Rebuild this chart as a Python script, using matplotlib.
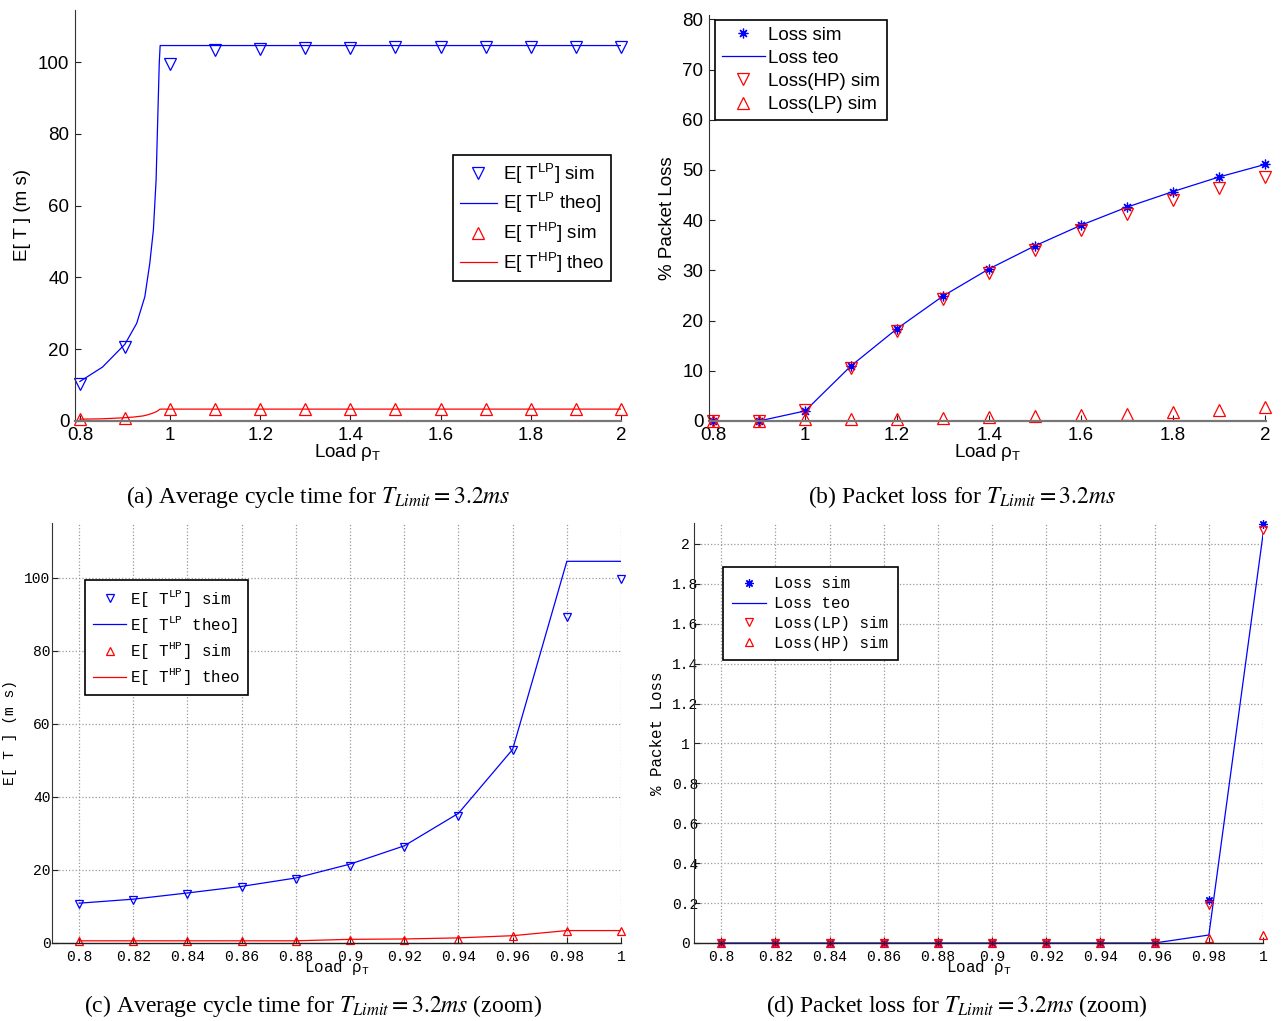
import matplotlib.pyplot as plt
from matplotlib.font_manager import FontProperties

plt.rcParams['mathtext.fontset'] = 'custom'
plt.rcParams['mathtext.rm'] = 'Liberation Sans'
plt.rcParams['mathtext.it'] = 'Liberation Sans:italic'
plt.rcParams['mathtext.tt'] = 'Liberation Mono'
plt.rcParams['xtick.direction'] = 'in'
plt.rcParams['ytick.direction'] = 'in'

# ---- data, full range (a), (b)
load = [0.8, 0.9, 1.0, 1.1, 1.2, 1.3, 1.4, 1.5, 1.6, 1.7, 1.8, 1.9, 2.0]
lp_sim = [10.4, 20.6, 99.4, 103.3, 103.7, 103.9, 104.0, 104.1, 104.2, 104.2, 104.3, 104.3, 104.3]
hp_sim = [0.5, 0.9, 3.3, 3.3, 3.3, 3.3, 3.3, 3.3, 3.3, 3.3, 3.3, 3.3, 3.3]

# theoretical curves as read from (a)
load_lp_theo = [0.8, 0.85, 0.9, 0.926, 0.944, 0.955, 0.963, 0.969, 0.972, 0.976, 0.978, 2.0]
lp_theo = [11.0, 15.0, 21.4, 27.2, 34.6, 43.9, 53.2, 67.1, 81.1, 99.6, 104.6, 104.6]
load_hp_theo = [0.8, 0.85, 0.9, 0.92, 0.94, 0.95, 0.96, 0.97, 0.978, 2.0]
hp_theo = [0.5, 0.6, 0.9, 1.1, 1.4, 1.7, 2.1, 2.6, 3.3, 3.3]

loss_sim = [0.0, 0.0, 2.0, 11.0, 18.4, 24.9, 30.3, 34.9, 39.0, 42.6, 45.7, 48.6, 51.1]
loss_teo = [0.0, 0.0, 2.0, 11.0, 18.4, 24.9, 30.3, 34.9, 39.0, 42.6, 45.7, 48.6, 51.1]
loss_hp_sim = [0.0, 0.0, 2.1, 10.6, 18.0, 24.3, 29.5, 34.1, 38.1, 41.2, 44.1, 46.5, 48.6]
loss_lp_sim = [0.0, 0.0, 0.3, 0.3, 0.4, 0.5, 0.7, 0.9, 1.1, 1.3, 1.7, 2.1, 2.7]

# ---- zoom data (c), (d)
load_z = [0.8, 0.82, 0.84, 0.86, 0.88, 0.9, 0.92, 0.94, 0.96, 0.98, 1.0]
lp_sim_z = [10.7, 11.8, 13.4, 15.2, 17.4, 21.2, 26.3, 34.8, 52.8, 89.3, 99.7]
lp_theo_z = [10.9, 12.0, 13.7, 15.5, 17.8, 21.6, 26.6, 35.5, 53.0, 104.5, 104.5]
hp_sim_z = [0.5, 0.5, 0.5, 0.5, 0.5, 0.8, 0.8, 1.2, 1.9, 3.3, 3.4]
hp_theo_z = [0.6, 0.6, 0.6, 0.6, 0.6, 1.0, 1.1, 1.4, 2.0, 3.4, 3.4]

loss_sim_z = [0, 0, 0, 0, 0, 0, 0, 0, 0, 0.217, 2.10]
loss_teo_z = [0, 0, 0, 0, 0, 0, 0, 0, 0, 0.04, 2.05]
loss_lp_sim_z = [0, 0, 0, 0, 0, 0, 0, 0, 0, 0.19, 2.07]
loss_hp_sim_z = [0, 0, 0, 0, 0, 0, 0, 0, 0, 0.023, 0.042]

xt_full = [0.8, 1.0, 1.2, 1.4, 1.6, 1.8, 2.0]
xt_full_lbl = ['0.8', '1', '1.2', '1.4', '1.6', '1.8', '2']
xt_zoom_lbl = ['0.8', '0.82', '0.84', '0.86', '0.88', '0.9', '0.92', '0.94', '0.96', '0.98', '1']
yt_d = [0, 0.2, 0.4, 0.6, 0.8, 1.0, 1.2, 1.4, 1.6, 1.8, 2.0]
yt_d_lbl = ['0', '0.2', '0.4', '0.6', '0.8', '1', '1.2', '1.4', '1.6', '1.8', '2']

sans = 'Liberation Sans'
mono = 'Liberation Mono'
fs = 13.5
fsm = 10.5
fsl = 11.4
aster = (8, 2, 0)

fig = plt.figure(figsize=(12.81, 10.21), dpi=100)

def style(ax, fam, size, pad=3):
  ax.spines['top'].set_visible(False)
  ax.spines['right'].set_visible(False)
  ax.spines['left'].set_color('#333333')
  ax.spines['bottom'].set_color('#777777')
  ax.spines['bottom'].set_linewidth(1.6)
  ax.tick_params(length=4, width=0.8, pad=pad, colors='#222222')
  for t in ax.get_xticklabels() + ax.get_yticklabels():
    t.set_fontfamily(fam)
    t.set_fontsize(size)
    t.set_color('black')

def leg(ax, loc, fam, size, hl, sp, tp, bp):
  l = ax.legend(loc='upper left', bbox_to_anchor=loc, bbox_transform=fig.transFigure,
                numpoints=1, handlelength=hl, fancybox=False, framealpha=1,
                edgecolor='black', borderpad=bp, labelspacing=sp, handletextpad=tp,
                borderaxespad=0, prop=FontProperties(family=fam, size=size, math_fontfamily='custom'))
  l.get_frame().set_linewidth(1.2)
  return l

# (a)
ax = fig.add_axes([0.0585, 0.5877, 0.4262, 0.4025])
ax.plot(load, lp_sim, 'bv', mfc='none', ms=8, mew=0.9, clip_on=False, label=r'E[ T$^{\mathrm{LP}}$] sim')
ax.plot(load_lp_theo, lp_theo, 'b-', lw=0.9, label=r'E[ T$^{\mathrm{LP}}$ theo]')
ax.plot(load, hp_sim, 'r^', mfc='none', ms=8, mew=0.9, clip_on=False, label=r'E[ T$^{\mathrm{HP}}$] sim')
ax.plot(load_hp_theo, hp_theo, 'r-', lw=0.9, label=r'E[ T$^{\mathrm{HP}}$] theo')
ax.set_xlim(0.789, 2.0)
ax.set_ylim(0, 114.5)
ax.set_xticks(xt_full)
ax.set_xticklabels(xt_full_lbl)
ax.set_yticks([0, 20, 40, 60, 80, 100])
style(ax, sans, fs, pad=4)
ax.set_xlabel(r'Load ρ$_\mathrm{T}$', fontfamily=sans, fontsize=fs, labelpad=-1, math_fontfamily='custom')
ax.set_ylabel('E[ T ] (m s)', fontfamily=sans, fontsize=fs)
ax.yaxis.set_label_coords(-0.081, 0.5)
leg(ax, (0.3536, 0.8482), sans, fs, 2.0, 0.3, 0.3, 0.35)

# (b)
ax = fig.add_axes([0.5535, 0.5877, 0.4348, 0.3973])
ax.plot(load, loss_sim, 'b', ls='none', marker=aster, ms=7, mew=0.9, clip_on=False, label='Loss sim')
ax.plot(load, loss_teo, 'b-', lw=0.9, label='Loss teo')
ax.plot(load, loss_hp_sim, 'rv', mfc='none', ms=8, mew=0.9, clip_on=False, label='Loss(HP) sim')
ax.plot(load, loss_lp_sim, 'r^', mfc='none', ms=8, mew=0.9, clip_on=False, label='Loss(LP) sim')
ax.set_xlim(0.791, 2.002)
ax.set_ylim(0, 80.8)
ax.set_xticks(xt_full)
ax.set_xticklabels(xt_full_lbl)
ax.set_yticks([0, 10, 20, 30, 40, 50, 60, 70, 80])
style(ax, sans, fs, pad=4)
ax.set_xlabel(r'Load ρ$_\mathrm{T}$', fontfamily=sans, fontsize=fs, labelpad=-1, math_fontfamily='custom')
ax.set_ylabel('% Packet Loss', fontfamily=sans, fontsize=fs)
ax.yaxis.set_label_coords(-0.059, 0.5)
leg(ax, (0.5582, 0.9804), sans, fs, 2.3, 0.32, 0.2, 0.35)

# (c)
ax = fig.add_axes([0.0406, 0.0764, 0.4442, 0.4114])
ax.grid(True, ls=':', color='#999999', lw=0.9)
ax.plot(load_z, lp_sim_z, 'bv', mfc='none', ms=6, mew=0.9, clip_on=False, label=r'E[ T$^{\mathtt{LP}}$] sim')
ax.plot(load_z, lp_theo_z, 'b-', lw=0.9, label=r'E[ T$^{\mathtt{LP}}$ theo]')
ax.plot(load_z, hp_sim_z, 'r^', mfc='none', ms=6, mew=0.9, clip_on=False, label=r'E[ T$^{\mathtt{HP}}$] sim')
ax.plot(load_z, hp_theo_z, 'r-', lw=0.9, label=r'E[ T$^{\mathtt{HP}}$] theo')
ax.set_xlim(0.79, 1.0)
ax.set_ylim(0, 115)
ax.set_xticks(load_z)
ax.set_xticklabels(xt_zoom_lbl)
ax.set_yticks([0, 20, 40, 60, 80, 100])
style(ax, mono, fsm, pad=5)
ax.tick_params(axis='y', pad=1)
ax.spines['bottom'].set_color('#222222')
ax.spines['bottom'].set_linewidth(1.0)
ax.set_xlabel(r'Load ρ$_\mathtt{T}$', fontfamily=mono, fontsize=fsl, labelpad=-4, math_fontfamily='custom')
ax.set_ylabel('E[ T ] (m s)', fontfamily=mono, fontsize=fsm)
ax.yaxis.set_label_coords(-0.0615, 0.5)
leg(ax, (0.0664, 0.4319), mono, fsl, 2.1, 0.32, 0.25, 0.5)

# (d)
ax = fig.add_axes([0.5418, 0.0764, 0.4442, 0.4114])
ax.grid(True, ls=':', color='#999999', lw=0.9)
ax.plot(load_z, loss_sim_z, 'b', ls='none', marker=aster, ms=6, mew=0.9, clip_on=False, label='Loss sim')
ax.plot(load_z, loss_teo_z, 'b-', lw=0.9, label='Loss teo')
ax.plot(load_z, loss_lp_sim_z, 'rv', mfc='none', ms=6, mew=0.9, clip_on=False, label='Loss(LP) sim')
ax.plot(load_z, loss_hp_sim_z, 'r^', mfc='none', ms=6, mew=0.9, clip_on=False, label='Loss(HP) sim')
ax.set_xlim(0.79, 1.0)
ax.set_ylim(0, 2.105)
ax.set_xticks(load_z)
ax.set_xticklabels(xt_zoom_lbl)
ax.set_yticks(yt_d)
ax.set_yticklabels(yt_d_lbl)
style(ax, mono, fsm, pad=5)
ax.tick_params(axis='y', pad=6.5)
for t in ax.get_yticklabels():
  t.set_horizontalalignment('center')
ax.spines['bottom'].set_color('#222222')
ax.spines['bottom'].set_linewidth(1.0)
ax.set_xlabel(r'Load ρ$_\mathtt{T}$', fontfamily=mono, fontsize=fsl, labelpad=-4, math_fontfamily='custom')
ax.set_ylabel('% Packet Loss', fontfamily=mono, fontsize=fsl)
ax.yaxis.set_label_coords(-0.051, 0.5)
leg(ax, (0.5644, 0.4447), mono, fsl, 2.1, 0.3, 0.55, 0.6)

# captions
cap = dict(ha='center', va='center', fontfamily='Liberation Serif', fontsize=17, math_fontfamily='stix')
fig.text(318/1281, 1-497/1021, r'(a) Average cycle time for $T_{Limit}=3.2ms$', **cap)
fig.text(962/1281, 1-497/1021, r'(b) Packet loss for $T_{Limit}=3.2ms$', **cap)
fig.text(313/1281, 1-1006/1021, r'(c) Average cycle time for $T_{Limit}=3.2ms$ (zoom)', **cap)
fig.text(957/1281, 1-1006/1021, r'(d) Packet loss for $T_{Limit}=3.2ms$ (zoom)', **cap)

plt.savefig('out.png', dpi=100)
